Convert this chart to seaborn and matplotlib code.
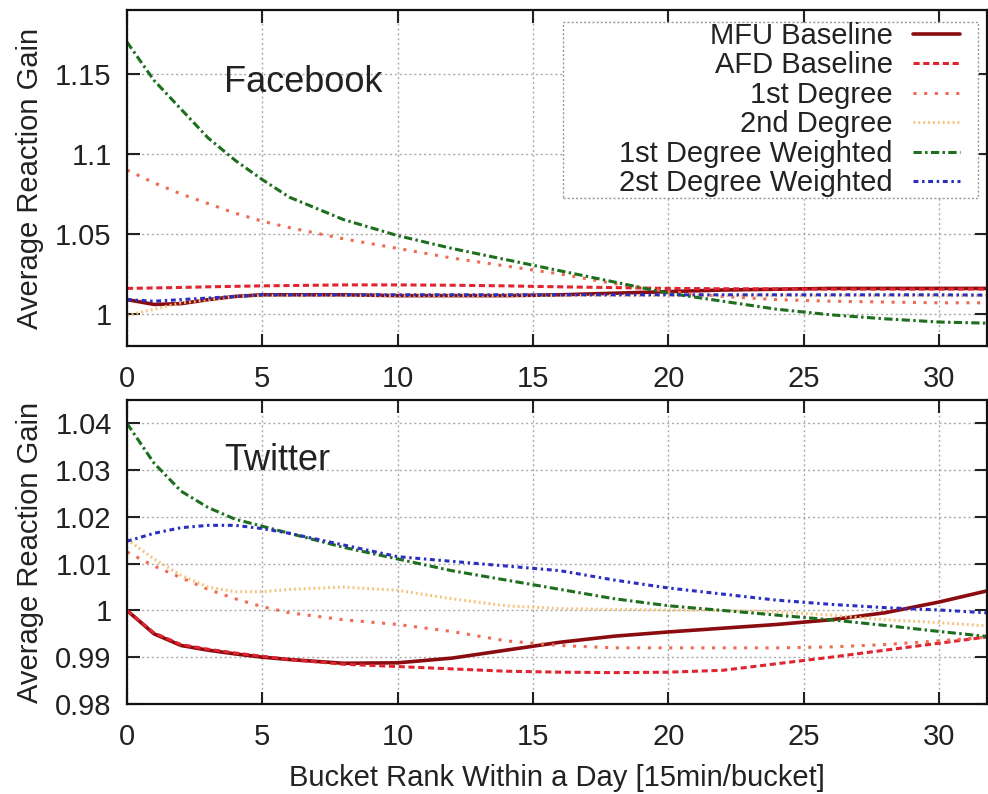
import matplotlib
matplotlib.use("Agg")
import matplotlib.pyplot as plt
import matplotlib.patches as mpatches
import seaborn as sns

x = [0, 1, 2, 3, 4, 5, 6, 8, 10, 12, 14, 16, 18, 20, 22, 24, 26, 28, 30, 32]

labels = ["MFU Baseline", "AFD Baseline", "1st Degree", "2nd Degree",
          "1st Degree Weighted", "2st Degree Weighted"]

# Facebook panel
fb_mfu = [1.009, 1.006, 1.0065, 1.009, 1.011, 1.012, 1.012, 1.012, 1.0115, 1.0115,
          1.0115, 1.012, 1.013, 1.014, 1.015, 1.0155, 1.016, 1.016, 1.016, 1.016]
fb_afd = [1.016, 1.0163, 1.0166, 1.017, 1.0173, 1.0176, 1.0178, 1.0182, 1.0182, 1.018,
          1.0176, 1.017, 1.0165, 1.016, 1.0158, 1.0157, 1.0156, 1.0156, 1.0156, 1.0156]
fb_deg1 = [1.09, 1.082, 1.075, 1.069, 1.063, 1.058, 1.054, 1.047, 1.041, 1.035,
           1.03, 1.025, 1.019, 1.014, 1.011, 1.009, 1.008, 1.0075, 1.007, 1.007]
fb_deg2 = [0.999, 1.003, 1.007, 1.009, 1.011, 1.0115, 1.0115, 1.0115, 1.0115, 1.0115,
           1.0115, 1.0115, 1.0115, 1.0115, 1.0115, 1.0115, 1.0115, 1.0115, 1.0115, 1.0115]
fb_deg1w = [1.17, 1.146, 1.128, 1.11, 1.096, 1.084, 1.073, 1.059, 1.049, 1.041,
            1.034, 1.027, 1.02, 1.013, 1.008, 1.003, 0.9995, 0.997, 0.995, 0.9942]
fb_deg2w = [1.009, 1.008, 1.009, 1.010, 1.011, 1.012, 1.012, 1.012, 1.012, 1.012,
            1.012, 1.012, 1.012, 1.012, 1.012, 1.012, 1.012, 1.012, 1.012, 1.0118]

# Twitter panel
tw_mfu = [1.0, 0.995, 0.9925, 0.9915, 0.9907, 0.99, 0.9895, 0.9887, 0.9888, 0.9898,
          0.9915, 0.9932, 0.9945, 0.9954, 0.9962, 0.997, 0.998, 0.9995, 1.0018, 1.0045]
tw_afd = [1.0, 0.9952, 0.9927, 0.9917, 0.9909, 0.9902, 0.9895, 0.9885, 0.988, 0.9875,
          0.987, 0.9868, 0.9867, 0.9868, 0.9872, 0.9886, 0.99, 0.9915, 0.993, 0.9945]
tw_deg1 = [1.0125, 1.0095, 1.007, 1.0045, 1.0025, 1.0008, 0.9995, 0.998, 0.997, 0.9955,
           0.9935, 0.9925, 0.992, 0.992, 0.992, 0.992, 0.9922, 0.9927, 0.9935, 0.9944]
tw_deg2 = [1.0152, 1.011, 1.0075, 1.005, 1.004, 1.004, 1.0045, 1.005, 1.0043, 1.0025,
           1.001, 1.0004, 1.0002, 1.0001, 1.0, 0.9997, 0.999, 0.998, 0.9974, 0.9966]
tw_deg1w = [1.04, 1.0315, 1.0255, 1.022, 1.0195, 1.018, 1.0165, 1.0135, 1.011, 1.0085,
            1.0065, 1.0045, 1.0025, 1.001, 1.0, 0.999, 0.998, 0.9968, 0.9955, 0.9943]
tw_deg2w = [1.0148, 1.0165, 1.0177, 1.0182, 1.0182, 1.0175, 1.0165, 1.014, 1.0115, 1.0105,
            1.0095, 1.0085, 1.0065, 1.0048, 1.0035, 1.0022, 1.0013, 1.0006, 1.0001, 0.9994]

colors = ["#8a0c10", "#e02430", "#ee6a50", "#f5c27a", "#1d6e1d", "#2a2fc0"]
styles = ["-", (0, (2, 1.2)), (0, (1, 2.5)), (0, (0.6, 1)),
          (0, (2.7, 1.1, 0.8, 1.1)), (0, (1.6, 1.2, 0.8, 1.2))]

sns.set_theme(style="ticks")
plt.rcParams["font.family"] = ["Liberation Sans", "DejaVu Sans"]

fig = plt.figure(figsize=(9.88, 7.94), dpi=100)
ax1 = fig.add_axes([0.1285, 0.5642, 0.870, 0.4232])
ax2 = fig.add_axes([0.1285, 0.1134, 0.870, 0.3828])

fb = [fb_mfu, fb_afd, fb_deg1, fb_deg2, fb_deg1w, fb_deg2w]
tw = [tw_mfu, tw_afd, tw_deg1, tw_deg2, tw_deg1w, tw_deg2w]

for i in range(6):
    lw = 2.6 if i == 0 else 2.2
    sns.lineplot(x=x, y=fb[i], ax=ax1, color=colors[i], linestyle=styles[i],
                 linewidth=lw, label=labels[i])
    sns.lineplot(x=x, y=tw[i], ax=ax2, color=colors[i], linestyle=styles[i],
                 linewidth=lw, legend=False)

fs = 21
for ax in (ax1, ax2):
    ax.set_xlim(0, 31.75)
    ax.set_xticks([0, 5, 10, 15, 20, 25, 30])
    ax.grid(True, color="#aaaaaa", linestyle=(0, (1.5, 2)), linewidth=1)
    ax.tick_params(direction="in", length=9, width=1.5, top=True, right=True,
                   labelsize=fs, colors="#222222")
    ax.tick_params(axis="x", pad=14)
    ax.tick_params(axis="y", pad=11)
    for s in ax.spines.values():
        s.set_linewidth(1.6)
        s.set_color("#111111")
    ax.set_ylabel("Average Reaction Gain", fontsize=fs, color="#222222", va="center")
    ax.yaxis.set_label_coords(-0.113, 0.5)

ax1.set_ylim(0.98, 1.19)
ax1.set_yticks([1.0, 1.05, 1.1, 1.15], ["1", "1.05", "1.1", "1.15"])
ax2.set_ylim(0.98, 1.045)
ax2.set_yticks([0.98, 0.99, 1.0, 1.01, 1.02, 1.03, 1.04],
               ["0.98", "0.99", "1", "1.01", "1.02", "1.03", "1.04"])

ax1.text(3.6, 1.145, "Facebook", fontsize=26, va="center", color="#222222")
ax2.text(3.6, 1.032, "Twitter", fontsize=26, va="center", color="#222222")

ax2.set_xlabel("Bucket Rank Within a Day [15min/bucket]", fontsize=fs,
               color="#222222", labelpad=9)

# legend frame, drawn wider than the entries like the original
box = mpatches.Rectangle((563 / 988, 1 - 198 / 794), 415 / 988, 176 / 794,
                         transform=fig.transFigure, facecolor="white",
                         edgecolor="#999999", linestyle=(0, (1.5, 1.5)),
                         linewidth=1, zorder=4)
ax1.add_patch(box)

leg = ax1.legend(loc="upper right", bbox_to_anchor=(960 / 988, 1 - 22 / 794),
                 bbox_transform=fig.transFigure, borderaxespad=0, fontsize=fs,
                 markerfirst=False, handlelength=1.6, handletextpad=0.7,
                 labelspacing=0.05, borderpad=0, frameon=False)
for t in leg.get_texts():
    t.set_color("#222222")

plt.savefig("out.png", dpi=100)
